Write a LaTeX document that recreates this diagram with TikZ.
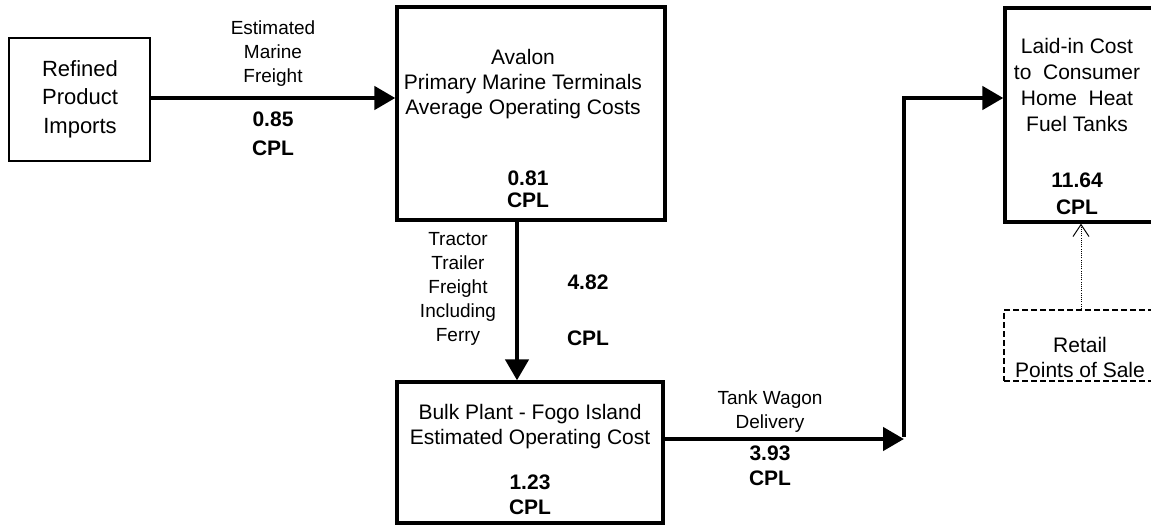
\documentclass[tikz,border=0pt]{standalone}
\usepackage{fontspec}
\setmainfont{Liberation Sans}
\usetikzlibrary{arrows.meta}
\tikzset{
  thinbox/.style={draw, line width=1.3pt, inner sep=0pt},
  box/.style={draw, line width=3.3pt, inner sep=0pt},
  dbox/.style={draw, line width=2pt, dash pattern=on 6pt off 3pt, inner sep=0pt},
  txt/.style={align=center, inner sep=0pt, font=\fontsize{21}{25}\selectfont},
  lbl/.style={align=center, inner sep=0pt, font=\fontsize{19}{24}\selectfont},
  val/.style={align=center, inner sep=0pt, font=\bfseries\fontsize{21}{26}\selectfont},
  flow/.style={line width=4.5pt, -{Triangle[length=21pt,width=23pt]}},
  dotflow/.style={line width=1pt, dash pattern=on 1pt off 1.2pt, -{Straight Barb[length=12pt,width=16pt,line width=1pt]}}
}
\begin{document}
\begin{tikzpicture}[x=1pt,y=-1pt]
\useasboundingbox (0,0) rectangle (1151,525);
\clip (0,0) rectangle (1151,525);
% boxes
\node[thinbox, minimum width=141pt, minimum height=123pt] (refined) at (79.5,99.5) {};
\node[box, minimum width=268pt, minimum height=213pt] (avalon) at (531,113.5) {};
\node[box, minimum width=266pt, minimum height=141pt] (bulk) at (530,452.5) {};
\node[box, minimum width=151pt, minimum height=214pt] (laid) at (1080.5,115) {};
\node[dbox, minimum width=152pt, minimum height=71pt] (retail) at (1080,345.5) {};
% texts
\node[txt, font=\fontsize{22}{28.5}\selectfont] (treff) at (80,99) {Refined\\Product\\Imports};
\node[lbl] (tmar) at (273,54) {Estimated\\Marine\\Freight};
\node[val, font=\bfseries\fontsize{21}{29}\selectfont] (vmar) at (273,134) {0.85\\CPL};
\node[txt] (taval) at (523,84) {Avalon\\Primary Marine Terminals\\Average Operating Costs};
\node[val, font=\bfseries\fontsize{21}{22}\selectfont] (vaval) at (528,189) {0.81\\CPL};
\node[lbl] (ttrac) at (458,289) {Tractor\\Trailer\\Freight\\Including\\Ferry};
\node[val, font=\bfseries\fontsize{21}{56}\selectfont] (vtrac) at (588,310) {4.82\\CPL};
\node[txt] (tbulk) at (530,427) {Bulk Plant - Fogo Island\\Estimated Operating Cost};
\node[val, font=\bfseries\fontsize{21}{25}\selectfont] (vbulk) at (530,495) {1.23\\CPL};
\node[lbl] (ttank) at (770,412) {Tank Wagon\\Delivery};
\node[val, font=\bfseries\fontsize{21}{25}\selectfont] (vtank) at (770,466) {3.93\\CPL};
\node[txt, font=\fontsize{21}{26}\selectfont] (tlaid) at (1077,85) {Laid-in Cost\\to\ \ Consumer\\Home\ \ Heat\\Fuel Tanks};
\node[val, font=\bfseries\fontsize{21}{27}\selectfont] (vlaid) at (1077,194) {11.64\\CPL};
\node[txt] (tret) at (1080,357) {Retail\\Points of Sale};
% connectors
\coordinate (m1) at (273,98);
\coordinate (m2) at (517,300);
\coordinate (jn) at (904,439);
\coordinate (tp) at (904,98);
\coordinate (m5) at (1081,260);
\draw[flow] (refined.east |- m1) -- (m1 -| avalon.west);
\draw[flow] (m2 |- avalon.south) -- (m2 |- bulk.north);
\draw[flow] (bulk.east |- jn) -- (jn);
\draw[flow] ([yshift=2.25pt]jn) -- (tp) -- (tp -| laid.west);
\draw[dotflow] (m5 |- retail.north) -- (m5 |- laid.south);
\end{tikzpicture}
\end{document}
